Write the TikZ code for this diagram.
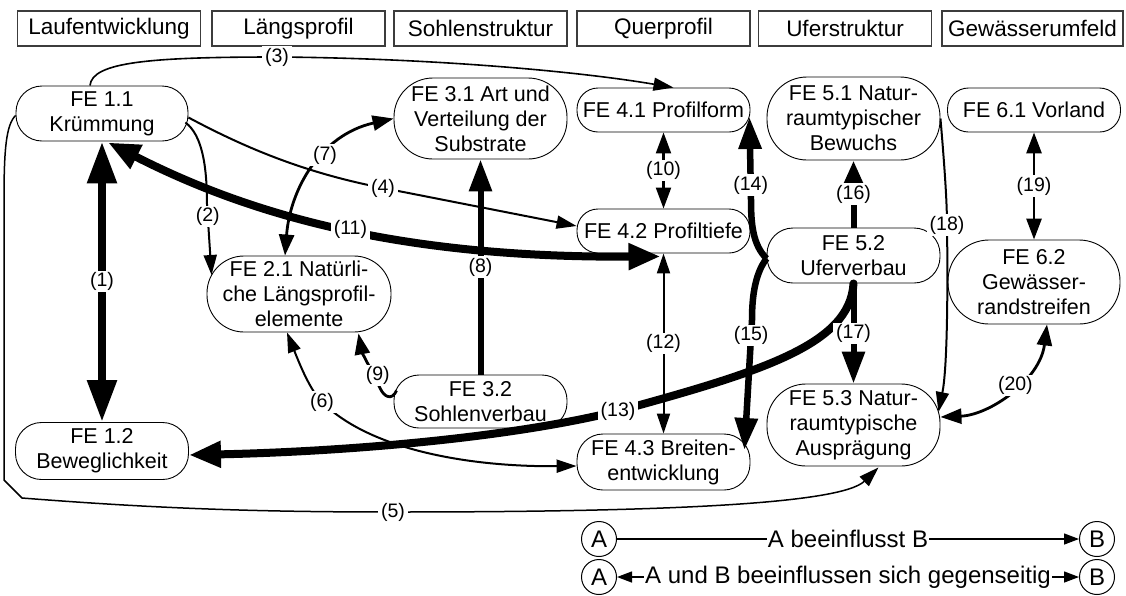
\documentclass[tikz,border=0pt]{standalone}
\usepackage{fontspec}
\setmainfont{Liberation Sans}
\usepackage{tikz}
\usetikzlibrary{arrows.meta, positioning, calc}
\definecolor{headgray}{RGB}{60,60,60}
\tikzset{
  colhead/.style={
    draw=headgray, line width=1.1pt,
    minimum width=173pt, minimum height=35pt, inner xsep=5pt,
    font=\fontsize{22.5}{26}\selectfont
  },
  fenode/.style={
    draw, line width=0.9pt, rounded corners=21pt,
    minimum width=173pt, minimum height=44pt,
    align=center, inner sep=1pt,
    font=\fontsize{21.5}{25}\selectfont
  },
  fenodemid/.style={fenode, rounded corners=26pt, minimum height=55pt},
  fenodebig/.style={fenode, rounded corners=39pt, minimum height=82pt},
  felink/.style={
    line width=2pt, >={Triangle[length=20pt,width=13pt]}
  },
  felinkmid/.style={
    line width=2.8pt, >={Triangle[length=21pt,width=15pt]}
  },
  felinkbold/.style={
    line width=6pt, >={Triangle[length=32pt,width=22pt]}
  },
  felinkheavy/.style={
    line width=8pt, >={Triangle[length=32pt,width=25pt]}
  },
  felabel/.style={
    font=\fontsize{19.5}{22}\selectfont, fill=white, inner xsep=3pt, inner ysep=1.5pt
  },
  legcircle/.style={
    circle, draw, line width=1pt, minimum size=35pt, inner sep=0pt,
    font=\fontsize{24}{28}\selectfont
  },
  legtext/.style={
    font=\fontsize{24}{28}\selectfont, fill=white, inner sep=1pt
  },
}

\begin{document}
\begin{tikzpicture}[x=1pt, y=-1pt]
  \useasboundingbox (0,0) rectangle (1126,595);

  % Column headers
  \node[colhead, minimum width=183pt] (hLauf) at (109,28.5) {Laufentwicklung};
  \node[colhead] (hLaengs) at (298.5,28.5) {Längsprofil};
  \node[colhead] (hSohle) at (480.5,28.5) {Sohlenstruktur};
  \node[colhead] (hQuer) at (663.5,28.5) {Querprofil};
  \node[colhead] (hUfer) at (845,28.5) {Uferstruktur};
  \node[colhead, minimum width=181pt] (hUmfeld) at (1032.5,28.5) {Gewässerumfeld};

  % Functional units
  \node[fenodemid, minimum width=172pt] (fe11) at (102,113.5) {FE 1.1\\Krümmung};
  \node[fenodemid, minimum height=57pt] (fe12) at (102,451) {FE 1.2\\Beweglichkeit};
  \node[fenodebig, rounded corners=37pt, minimum width=184pt, minimum height=76pt] (fe21) at (299,294)
    {FE 2.1 Natürli-\\che Längsprofil-\\elemente};
  \node[fenodebig, minimum height=81pt] (fe31) at (480.5,118.5) {FE 3.1 Art und\\Verteilung der\\Substrate};
  \node[fenodemid, rounded corners=25pt, minimum height=53pt] (fe32) at (480.5,401.5) {FE 3.2\\Sohlenverbau};
  \node[fenode] (fe41) at (663.5,110) {FE 4.1 Profilform};
  \node[fenode] (fe42) at (663.5,231) {FE 4.2 Profiltiefe};
  \node[fenodemid, minimum height=56pt] (fe43) at (663.5,462) {FE 4.3 Breiten-\\entwicklung};
  \node[fenodebig, rounded corners=40pt, minimum height=83pt] (fe51) at (853.5,118.5) {FE 5.1 Natur-\\raumtypischer\\Bewuchs};
  \node[fenodemid] (fe52) at (853.5,255.5) {FE 5.2\\Uferverbau};
  \node[fenodebig] (fe53) at (853.5,425) {FE 5.3 Natur-\\raumtypische\\Ausprägung};
  \node[fenode] (fe61) at (1034,110) {FE 6.1 Vorland};
  \node[fenodebig, rounded corners=41pt, minimum width=172pt, minimum height=84pt] (fe62) at (1034,282) {FE 6.2\\Gewässer-\\randstreifen};

  % Influences
  \draw[felinkheavy, line width=8.5pt, >={Triangle[length=42pt,width=28pt]}, <->]
    (fe11.south) -- node[felabel]{(1)} (fe12.north);
  \draw[felink, ->] ($(fe11.east)+(-3,9)$) .. controls (202,135) and (207,165) .. (207,205)
    -- node[felabel, pos=0.17]{(2)} ($(fe21.west)+(5,-19)$);
  \draw[felink, line width=1.6pt, ->] ($(fe11.north)+(-12,0)$) .. controls (92,62) and (150,57) .. (277,57)
    node[felabel]{(3)} .. controls (420,58) and (570,70) .. ($(fe41.north)+(10,0)$);
  \draw[felink, ->] ($(fe11.east)+(0,4)$) .. controls (240,145) and (300,172) .. (383,188)
    node[felabel]{(4)} -- ($(fe42.west)+(0,-5)$);
  \draw[felink, line width=1.5pt, ->] ($(fe11.west)+(0,2)$) .. controls (6,125) and (4,150) .. (4,200)
    -- (4,480) -- (22,498) .. controls (150,508) and (250,512) .. (393,512)
    node[felabel]{(5)} .. controls (650,512) and (840,505) .. ($(fe53.south)+(25,1)$);
  \draw[felink, <->] ($(fe21.south)+(-12,0)$) .. controls (300,365) and (310,390) .. (322,402)
    node[felabel]{(6)} .. controls (370,450) and (470,467) .. ($(fe43.west)+(0,4)$);
  \draw[felinkmid, <->] ($(fe21.north)+(-14,0)$) .. controls (290,190) and (320,135) ..
    node[felabel, pos=0.6]{(7)} (fe31.west);
  \draw[felinkbold, ->] (fe32.north) -- node[felabel]{(8)} (fe31.south);
  \draw[felinkmid, ->] ($(fe32.west)+(3,-11)$) .. controls (392,401) and (384,397) .. (380,388)
    .. controls (372,372) and (362,352) .. node[felabel, pos=0.25, xshift=4pt]{(9)}
    ($(fe21.south east)+(-33,1)$);
  \draw[felinkmid, line width=2.2pt, <->] (fe41.south) -- node[felabel]{(10)} (fe42.north);
  \draw[felinkheavy, <->] ($(fe11.south)+(6,1)$) .. controls (250,215) and (400,258) ..
    node[felabel, pos=0.52]{(11)} ($(fe42.south)+(-3,3)$);
  \draw[felink, <->] (fe42.south) -- node[felabel]{(12)} (fe43.north);
  \draw[felinkheavy, line cap=round, ->] (fe52.south) .. controls (850,345) and (760,372) .. (618,411)
    node[felabel]{(13)} .. controls (500,440) and (330,452) .. ($(fe12.east)+(0,4)$);
  \draw[felinkbold, line width=6.5pt, ->] ($(fe52.west)+(0,3)$) .. controls (753,245) and (751,225) .. (751,200)
    -- node[felabel, pos=0.18]{(14)} ($(fe41.east)+(-1,7)$);
  \draw[felinkbold, line width=6.5pt, ->] ($(fe52.west)+(0,3)$) .. controls (754,275) and (752,300) .. (752,320)
    -- node[felabel, pos=0.12]{(15)} ($(fe43.east)+(-6,-12)$);
  \draw[felinkbold, >={Triangle[length=23pt,width=18pt]}, ->] (fe52.north) -- node[felabel]{(16)} (fe51.south);
  \draw[felinkbold, ->] (fe52.south) -- node[felabel]{(17)} (fe53.north);
  \draw[felink, ->] (fe51.east) .. controls (944,160) and (947,200) .. (947,225)
    node[felabel]{(18)} .. controls (948,300) and (947,370) .. ($(fe53.east)+(-2,-13)$);
  \draw[felinkmid, <->] (fe61.south) -- node[felabel]{(19)} (fe62.north);
  \draw[felinkmid, <->] ($(fe62.south)+(13,0)$) .. controls (1040,380) and (990,415) ..
    node[felabel, pos=0.45]{(20)} ($(fe53.east)+(0,-8)$);

  % Legend
  \node[legcircle] (legA1) at (599,539) {A};
  \node[legcircle] (legB1) at (1097,539) {B};
  \node[legcircle] (legA2) at (599,577) {A};
  \node[legcircle] (legB2) at (1097,577) {B};
  \draw[felink, line width=1.4pt, >={Triangle[length=15pt,width=11pt]}, ->]
    (legA1) -- node[legtext]{A beeinflusst B} (legB1);
  \draw[felink, line width=1.4pt, >={Triangle[length=15pt,width=11pt]}, <->]
    (legA2) -- node[legtext]{A und B beeinflussen sich gegenseitig} (legB2);
\end{tikzpicture}
\end{document}
